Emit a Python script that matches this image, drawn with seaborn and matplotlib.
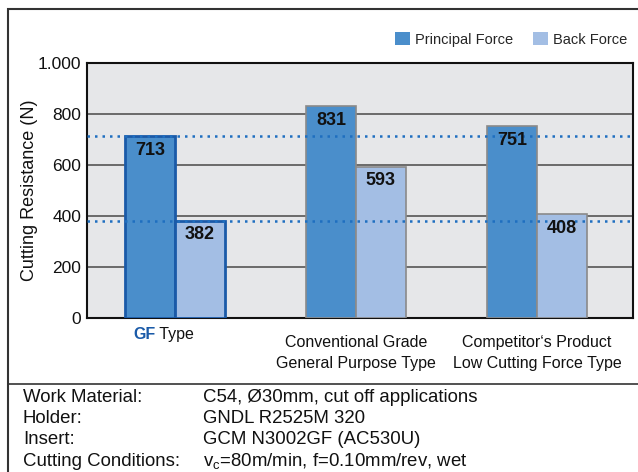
import matplotlib
matplotlib.use("Agg")
import matplotlib.pyplot as plt
import seaborn as sns
import pandas as pd
from matplotlib.patches import Patch, Rectangle
from matplotlib.lines import Line2D
from matplotlib.ticker import FuncFormatter

# ---- data ----
categories = ["GF Type", "Conventional Grade\nGeneral Purpose Type",
              "Competitor‘s Product\nLow Cutting Force Type"]
principal_force = [713, 831, 751]
back_force = [382, 593, 408]
series_names = ["Principal Force", "Back Force"]
y_ticks = [0, 200, 400, 600, 800, 1000]

conditions_labels = ["Work Material:", "Holder:", "Insert:", "Cutting Conditions:"]
conditions_values = ["C54, Ø30mm, cut off applications", "GNDL R2525M 320",
                     "GCM N3002GF (AC530U)",
                     r"v$_\mathregular{c}$=80m/min, f=0.10mm/rev, wet"]

df = pd.DataFrame({
    "category": categories * 2,
    "series": [series_names[0]] * 3 + [series_names[1]] * 3,
    "value": principal_force + back_force,
})

sns.set_theme(style="white")
plt.rcParams["font.family"] = ["Liberation Sans", "DejaVu Sans"]
plt.rcParams["mathtext.fontset"] = "custom"
plt.rcParams["mathtext.rm"] = "Liberation Sans"

c_principal = "#4a8ecb"
c_back = "#a3bee4"
c_gf_edge = "#1a5aa8"
c_dots = "#1f6fc0"

fig = plt.figure(figsize=(6.38, 4.72), dpi=100)
ax = fig.add_axes([87 / 638, 1 - 318 / 472, (633 - 87) / 638, (318 - 63) / 472])
ax.set_facecolor("#e6e7e9")

sns.barplot(data=df, x="category", y="value", hue="series", order=categories,
            hue_order=series_names, palette=[c_principal, c_back], saturation=1,
            width=0.55, gap=0, ax=ax, legend=False, zorder=3)

for container in ax.containers:
    for i, bar in enumerate(container):
        if i == 0:
            bar.set_edgecolor(c_gf_edge)
            bar.set_linewidth(2.0)
        else:
            bar.set_edgecolor("#8a8a8a")
            bar.set_linewidth(1.2)

for container, vals in zip(ax.containers, [principal_force, back_force]):
    for bar, v in zip(container, vals):
        ax.annotate(f"{v}", (bar.get_x() + bar.get_width() / 2, v),
                    xytext=(0, -4), textcoords="offset points",
                    ha="center", va="top", fontsize=13, fontweight="bold",
                    color="#111111", zorder=6)

# GF reference levels
for lvl in (principal_force[0], back_force[0]):
    ax.axhline(lvl, color=c_dots, linestyle=(0, (1, 2)), linewidth=1.8, zorder=5)

ax.set_ylim(0, 1000)
ax.set_xlim(-0.486, 2.53)
ax.set_yticks(y_ticks)
ax.yaxis.set_major_formatter(FuncFormatter(lambda v, p: f"{int(v):,}".replace(",", ".")))
ax.yaxis.grid(True, color="#555555", linewidth=1.2, zorder=0)
ax.set_axisbelow(True)
ax.tick_params(axis="y", length=0, pad=4, labelsize=12.5, colors="#111111")
ax.tick_params(axis="x", length=0, pad=12, labelsize=11.5, colors="#111111")
ax.set_ylabel("Cutting Resistance (N)", fontsize=13, color="#111111", labelpad=0)
ax.set_xlabel("")
for s in ax.spines.values():
    s.set_color("#111111")
    s.set_linewidth(1.5)

labels = ["", categories[1], categories[2]]
ax.set_xticks(range(3))
ax.set_xticklabels(labels, linespacing=1.5)

# first category label with bold product code
t1 = ax.text(-0.232, -0.065, "GF", transform=ax.get_xaxis_transform(), ha="left",
             va="center", fontsize=11.5, fontweight="bold", color=c_gf_edge)
ax.annotate(" Type", xy=(1, 0), xycoords=t1, va="bottom", ha="left",
            fontsize=11.5, color="#111111")

# legend
handles = [Patch(facecolor=c_principal, edgecolor="none"),
           Patch(facecolor=c_back, edgecolor="none")]
ax.legend(handles, series_names, ncol=2, frameon=False, loc="lower right",
          bbox_to_anchor=(1.0, 1.04), handlelength=1.0, handleheight=1.0,
          handletextpad=0.35, columnspacing=1.4, fontsize=10.5, borderaxespad=0)

# outer frame and separator
fig.add_artist(Rectangle((8 / 638, -0.05), 1.0, 1 - 9 / 472 + 0.05,
                         transform=fig.transFigure, fill=False,
                         edgecolor="#333333", linewidth=1.5))
fig.add_artist(Line2D([8 / 638, 1.0], [1 - 384 / 472] * 2, transform=fig.transFigure,
                      color="#333333", linewidth=1.2))

# test conditions
for i, (lab, val) in enumerate(zip(conditions_labels, conditions_values)):
    y = 1 - (397 + 21.5 * i) / 472
    fig.text(23 / 638, y, lab, fontsize=13.4, va="center", ha="left", color="#111111")
    fig.text(203 / 638, y, val, fontsize=13.4, va="center", ha="left", color="#111111")

fig.savefig("out.png", dpi=100)
